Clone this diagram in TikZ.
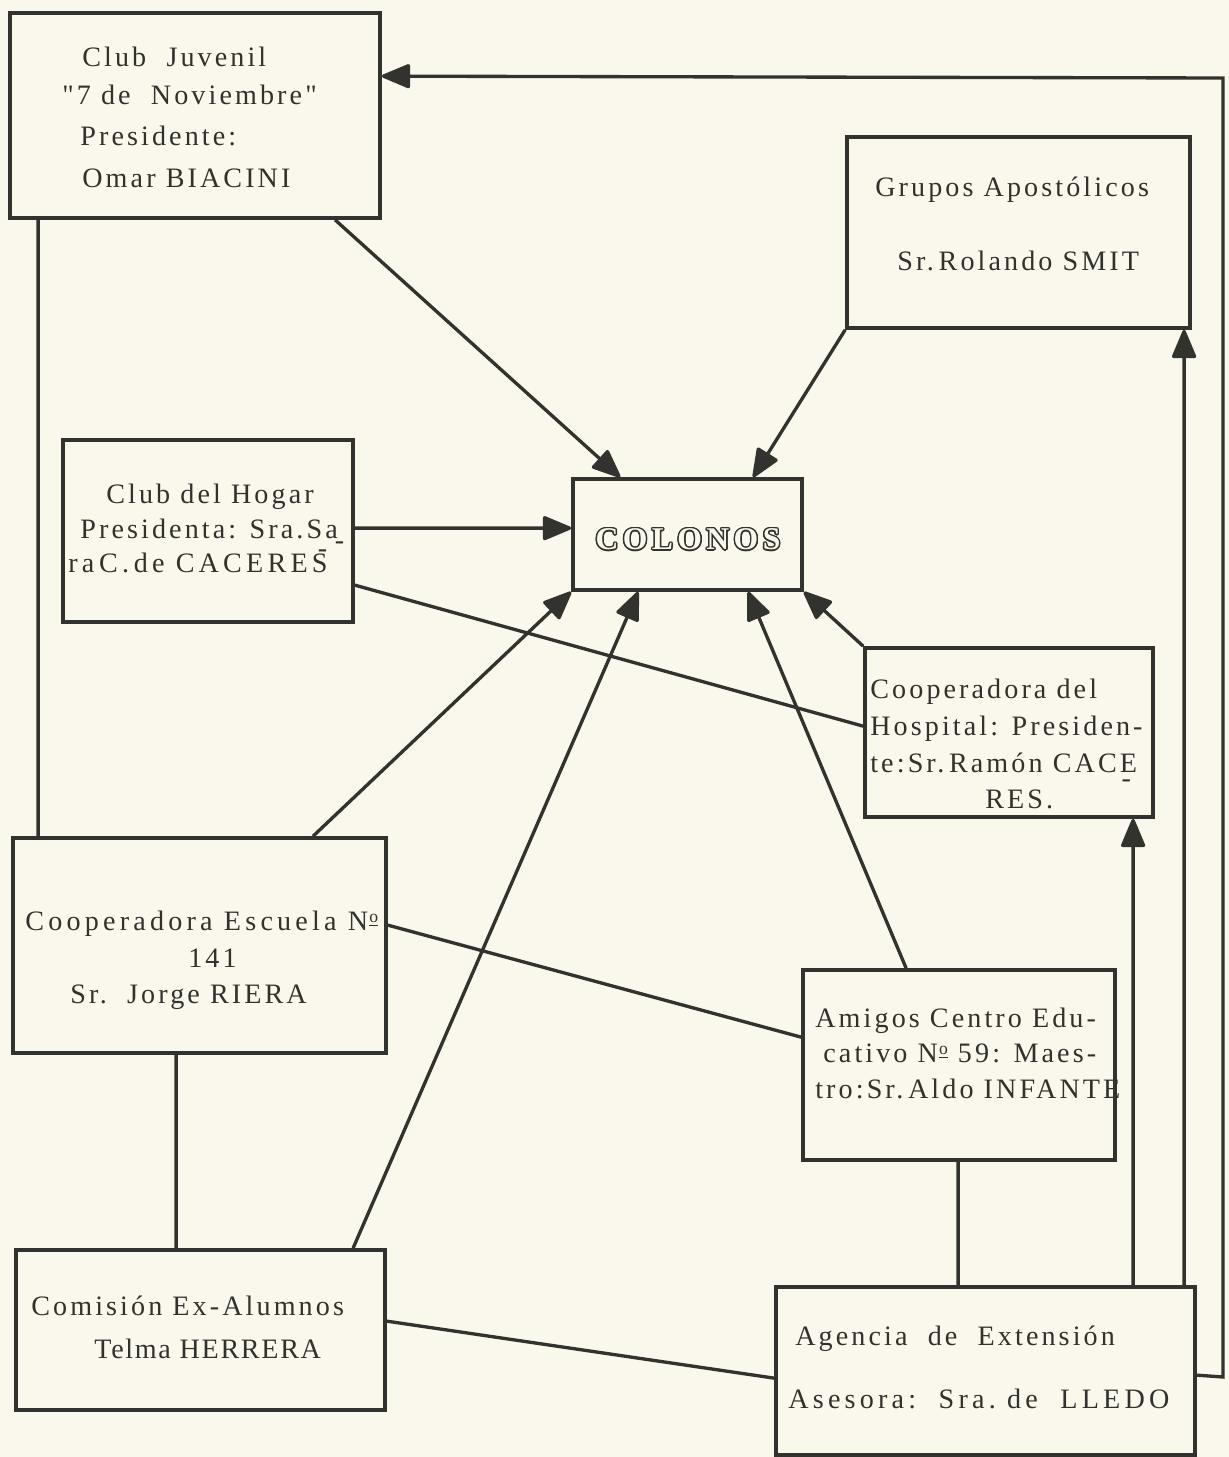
\documentclass[tikz,border=0pt]{standalone}
\usepackage{fontspec}
\usepackage[copies]{contour}
\usetikzlibrary{arrows.meta,fit}
\newfontfamily\tw[LetterSpace=11]{Liberation Serif}
\newfontfamily\twwide[LetterSpace=15]{Liberation Serif}
\newfontfamily\twnarrow[LetterSpace=6]{Liberation Serif}
\newfontfamily\colfont[LetterSpace=14]{Liberation Serif}
\definecolor{bg}{RGB}{250,248,237}
\definecolor{ink}{RGB}{50,50,46}
\definecolor{textc}{RGB}{50,49,45}
\newcommand\lowdash{\rlap{\kern-0.1em\raisebox{-0.4em}{-}}}
\newcommand\highdash{\rlap{\kern-0.35em\raisebox{0.5em}{-}}}
\newcommand\underdash{\rlap{\kern-0.55em\raisebox{-0.55em}{-}}}
\newcommand\numero{N\kern0.04em\raisebox{0.55ex}{\fontsize{10}{10}\selectfont\underline{o}}}
\contourlength{0.8pt}
\begin{document}
\begin{tikzpicture}[x=0.02cm,y=-0.02cm,
  box/.style={draw=ink,line width=2.1pt,inner sep=0pt},
  conn/.style={draw=ink,line width=1.9pt},
  arr/.style={conn,-{Triangle[width=0.5cm,length=0.62cm,round]}},
  txt/.style={inner sep=0pt,anchor=base west,text=textc,font=\tw\fontsize{16}{19}\selectfont},
  txtw/.style={txt,font=\twwide\fontsize{16}{19}\selectfont},
  txtn/.style={txt,font=\twnarrow\fontsize{16}{19}\selectfont}]
\fill[bg] (0,0) rectangle (1229,1457);
\useasboundingbox (0,0) rectangle (1229,1457);

% boxes
\node[box,fit={(10,13) (380,218)}] (cj) {};
\node[box,fit={(847,137) (1190,328)}] (ga) {};
\node[box,fit={(63,440) (353,622)}] (ch) {};
\node[box,fit={(573,479) (802,590)}] (col) {};
\node[box,fit={(865,648) (1153,817)}] (hosp) {};
\node[box,fit={(13,838) (386,1053)}] (esc) {};
\node[box,fit={(803,970) (1115,1160)}] (ami) {};
\node[box,fit={(16,1250) (385,1410)}] (com) {};
\node[box,fit={(776,1287) (1195,1455)}] (age) {};

% texts
\node[txt] (cj1) at (82,66) {Club\ \ Juvenil};
\node[txt] (cj2) at (62,104) {"7 de\ \ Noviembre"};
\node[txt] (cj3) at (80,145) {Presidente:};
\node[txt] (cj4) at (82,187) {Omar BIACINI};

\node[txt] (ga1) at (875,196) {Grupos Apostólicos};
\node[txt] (ga2) at (897,270) {Sr.\,Rolando SMIT};

\node[txt] (ch1) at (106,503) {Club del Hogar};
\node[txt] (ch2) at (80,538) {Presidenta: Sra.Sa\lowdash};
\node[txtw] (ch3) at (68,572) {ra\,C.\,de CACERES\highdash};

\node (colt) at (688,540) {\colfont\bfseries\fontsize{18}{20}\selectfont\contour{ink}{\textcolor{bg}{COLONOS}}};

\node[txt] (ho1) at (870,698) {Cooperadora del};
\node[txt] (ho2) at (870,735) {Hospital: Presiden-};
\node[txt] (ho3) at (870,772) {te:Sr.\,Ramón CACE\underdash};
\node[txt] (ho4) at (985,808) {RES.};

\node[txtw] (es1) at (25,930) {Cooperadora Escuela \numero};
\node[txt] (es2) at (188,967) {141};
\node[txt] (es3) at (70,1003) {Sr.\ \ Jorge RIERA};

\node[txt] (am1) at (815,1027) {Amigos Centro Edu-};
\node[txt] (am2) at (823,1062) {cativo \numero\ 59: Maes-};
\node[txt] (am3) at (815,1098) {tro:Sr.\,Aldo INFANTE};

\node[txt] (co1) at (31,1315) {Comisión Ex-Alumnos};
\node[txtn] (co2) at (94,1358) {Telma HERRERA};

\node[txt] (ag1) at (795,1345) {Agencia\ \ de\ \ Extensión};
\node[txtw] (ag2) at (788,1408) {Asesora:\ \ Sra.\ de\ \ LLEDO};

% connectors into COLONOS
\draw[arr] ([xshift=6.54cm]cj.south west) -- ([xshift=0.98cm]col.north west);
\draw[arr] (ga.south west) -- ([xshift=3.64cm]col.north west);
\draw[arr] ([yshift=-1.8cm]ch.north east) -- ([yshift=-1.02cm]col.north west);
\draw[arr] (hosp.north west) -- (col.south east);
\draw[arr] ([xshift=6.04cm]esc.north west) -- (col.south west);
\draw[arr] ([xshift=6.78cm]com.north west) -- ([xshift=1.34cm]col.south west);
\draw[arr] ([xshift=2.1cm]ami.north west) -- ([xshift=3.54cm]col.south west);

% plain links
\draw[conn] ([yshift=-2.94cm]ch.north east) -- ([yshift=-1.6cm]hosp.north west);
\draw[conn] ([yshift=-1.78cm]esc.north east) -- ([yshift=-1.38cm]ami.north west);
\draw[conn] ([xshift=3.3cm]esc.south west) -- ([xshift=3.24cm]com.north west);
\draw[conn] ([xshift=0.6cm]cj.south west) -- ([xshift=0.54cm]esc.north west);
\draw[conn] ([yshift=-1.46cm]com.north east) -- ([yshift=-1.86cm]age.north west);
\draw[conn] ([xshift=3.14cm]ami.south west) -- ([xshift=3.68cm]age.north west);

% from Agencia upward
\draw[arr] ([xshift=7.18cm]age.north west) -- ([xshift=5.4cm]hosp.south west);
\draw[arr] ([xshift=8.2cm]age.north west) -- ([xshift=6.78cm]ga.south west);
\coordinate (c1) at (1223,1377);
\coordinate (c2) at (1223,78);
\draw[arr,line join=miter] ([yshift=-1.8cm]age.north east) -- (c1) -- (c2) -- ([yshift=-1.3cm]cj.north east);
\end{tikzpicture}
\end{document}
